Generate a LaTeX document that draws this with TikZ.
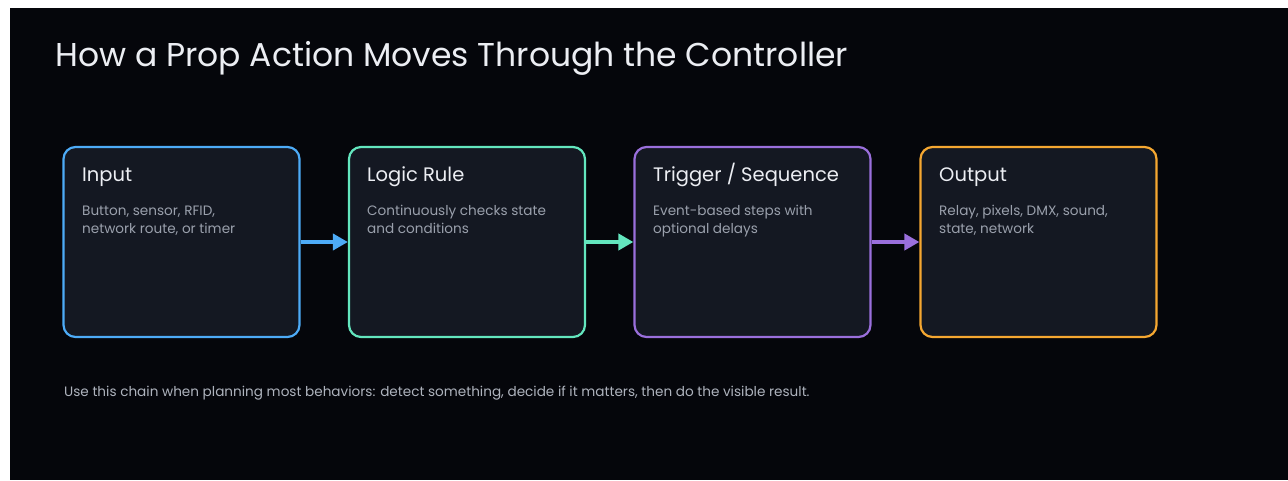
\documentclass[tikz,border=0pt]{standalone}
\usepackage{fontspec}
\setmainfont{Poppins}
\usetikzlibrary{arrows.meta}

\definecolor{pagebg}{HTML}{05060B}
\definecolor{cardbg}{HTML}{141822}
\definecolor{headtxt}{HTML}{ECEEF3}
\definecolor{bodytxt}{HTML}{9AA0AC}
\definecolor{notetxt}{HTML}{AEB3BD}
\definecolor{inblue}{HTML}{4DABF7}
\definecolor{logicgreen}{HTML}{63E6BE}
\definecolor{trigpurple}{HTML}{9A6FDC}
\definecolor{outorange}{HTML}{F5A731}

\tikzset{
  card/.style={draw=#1, line width=2.2pt, fill=cardbg, rounded corners=12pt,
    minimum width=236pt, minimum height=190pt, inner sep=0pt},
  cardhead/.style={anchor=base west, inner sep=0pt, text=headtxt,
    font=\fontsize{19.5}{22}\selectfont},
  cardbody/.style={anchor=base west, inner sep=0pt, text=bodytxt, align=left,
    font=\fontsize{13.6}{17.8}\selectfont},
  flow/.style={draw=#1, line width=4pt, -{Triangle[length=15pt,width=16pt]}}
}

\begin{document}
\begin{tikzpicture}[x=1pt,y=-1pt]
  \useasboundingbox (0,0) rectangle (1288,480);
  \fill[white] (0,0) rectangle (1288,480);
  \fill[pagebg] (10,8) rectangle (1288,480);

  \node[anchor=base west, inner sep=0pt, text=headtxt,
    font=\fontsize{33}{38}\selectfont] (title) at (55,66)
    {How a Prop Action Moves Through the Controller};

  % the four stages
  \node[card=inblue] (input) at (181.5,242) {};
  \node[card=logicgreen] (logic) at (467,242) {};
  \node[card=trigpurple] (trigger) at (752.5,242) {};
  \node[card=outorange] (output) at (1038.5,242) {};

  % body nodes sit on the baseline of their last line
  \node[cardhead] (inputhead) at (82,181) {Input};
  \node[cardbody] (inputbody) at (82,233.5) {Button, sensor, RFID,\\network route, or timer};

  \node[cardhead] (logichead) at (367,181) {Logic Rule};
  \node[cardbody] (logicbody) at (367,233.5) {Continuously checks state\\and conditions};

  \node[cardhead] (triggerhead) at (653,181) {Trigger / Sequence};
  \node[cardbody] (triggerbody) at (653,233.5) {Event-based steps with\\optional delays};

  \node[cardhead] (outputhead) at (939,181) {Output};
  \node[cardbody] (outputbody) at (939,233.5) {Relay, pixels, DMX, sound,\\state, network};

  % arrows between stages
  \draw[flow=inblue] (input.east) -- (logic.west);
  \draw[flow=logicgreen] (logic.east) -- (trigger.west);
  \draw[flow=trigpurple] (trigger.east) -- (output.west);

  \node[anchor=base west, inner sep=0pt, text=notetxt,
    font=\fontsize{13.6}{16}\selectfont] (note) at (64,396)
    {Use this chain when planning most behaviors: detect something, decide if it matters, then do the visible result.};
\end{tikzpicture}
\end{document}
